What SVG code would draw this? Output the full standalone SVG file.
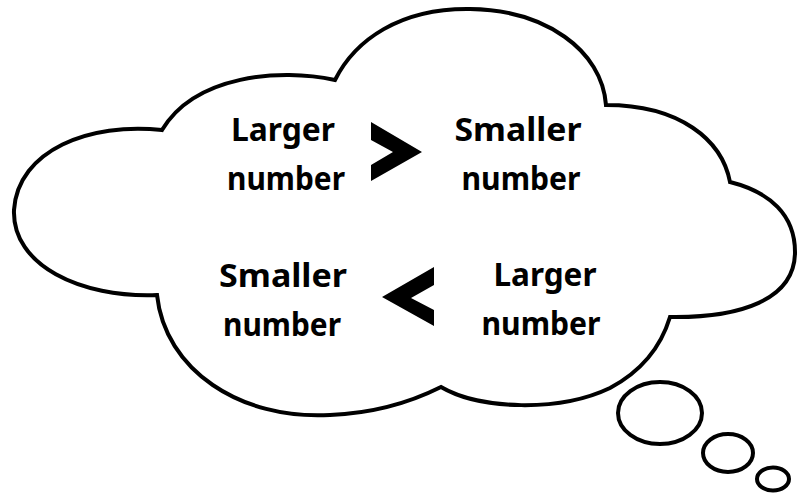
<svg xmlns="http://www.w3.org/2000/svg" width="807" height="496" viewBox="0 0 807 496">
<style>
.outline{fill:#fff;stroke:#000;stroke-width:4;stroke-linejoin:miter}
.bubble{fill:#fff;stroke:#000;stroke-width:4}
.lbl{font-family:"Noto Sans","Liberation Sans",sans-serif;font-weight:bold;font-size:33px;fill:#000;text-anchor:middle}
.sym{fill:#000}
</style>
<rect width="807" height="496" fill="#fff"/>
<g id="cloud">
<path class="outline" d="M162,130 C90,122 18,150 14,210 C12,265 80,298 157,295 C165,370 240,420 330,415 C380,413 415,400 441,387 C480,410 560,412 610,388 C640,372 660,350 670,317 C740,318 795,300 795,252 C795,215 770,192 730,182 C722,140 680,105 606,105 C602,50 545,10 470,9 C400,8 355,40 335,80 C280,68 195,75 162,130 Z"/>
</g>
<g id="bubbles">
<ellipse class="bubble" cx="660" cy="413" rx="42" ry="31"/>
<ellipse class="bubble" cx="728" cy="453" rx="25" ry="19"/>
<ellipse class="bubble" cx="773" cy="479" rx="16" ry="11.5"/>
</g>
<g id="top-left">
<text class="lbl" x="283" y="141" textLength="104" lengthAdjust="spacingAndGlyphs">Larger</text>
<text class="lbl" x="286" y="190" textLength="118" lengthAdjust="spacingAndGlyphs">number</text>
</g>
<g id="greater-than">
<polygon class="sym" points="371,122 422,152 371,181 371,165 393,152 371,140"/>
</g>
<g id="top-right">
<text class="lbl" x="518" y="141" textLength="127" lengthAdjust="spacingAndGlyphs">Smaller</text>
<text class="lbl" x="521" y="190" textLength="119" lengthAdjust="spacingAndGlyphs">number</text>
</g>
<g id="bottom-left">
<text class="lbl" x="283" y="287" textLength="128" lengthAdjust="spacingAndGlyphs">Smaller</text>
<text class="lbl" x="282" y="336" textLength="118" lengthAdjust="spacingAndGlyphs">number</text>
</g>
<g id="less-than">
<polygon class="sym" points="382,297 434,267 434,285 411,298 434,310 434,326"/>
</g>
<g id="bottom-right">
<text class="lbl" x="545" y="286" textLength="103" lengthAdjust="spacingAndGlyphs">Larger</text>
<text class="lbl" x="541" y="335" textLength="119" lengthAdjust="spacingAndGlyphs">number</text>
</g>
</svg>
